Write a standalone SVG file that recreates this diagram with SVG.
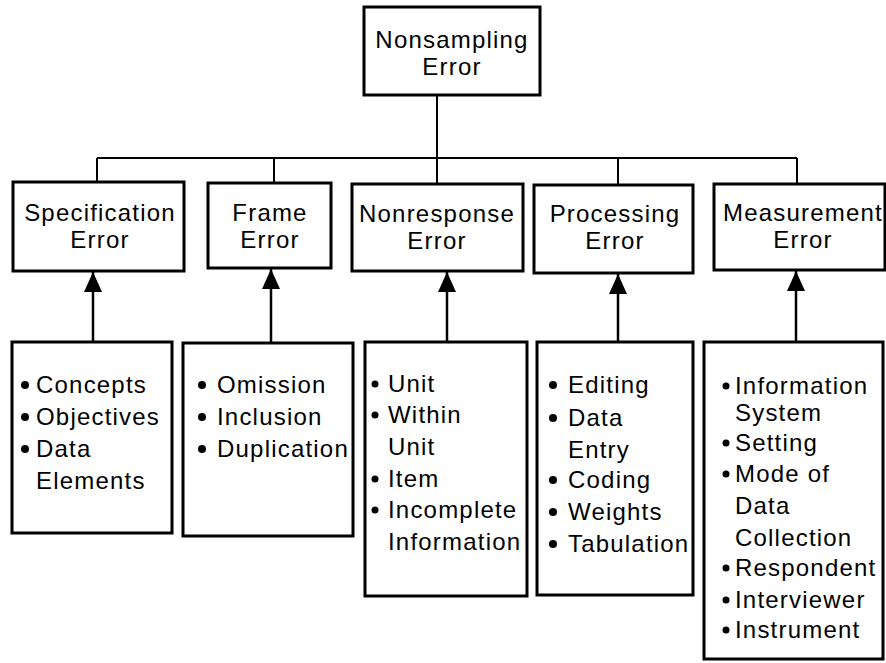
<svg xmlns="http://www.w3.org/2000/svg" width="886" height="663" viewBox="0 0 886 663">
<style>
  .box { fill: #fff; stroke: #000; stroke-width: 3; }
  .t { font-family: "Liberation Sans", Arial, Helvetica, sans-serif; font-size: 24px; letter-spacing: 1.2px; fill: #000; }
  .c { text-anchor: middle; }
  .ln { stroke: #000; stroke-width: 2; fill: none; }
  .ar { stroke: #000; stroke-width: 2.5; fill: none; marker-end: url(#ah); }
  .b { fill: #000; }
</style>
<defs>
  <marker id="ah" markerUnits="userSpaceOnUse" markerWidth="20" markerHeight="18" viewBox="0 0 20 18" refX="20" refY="9" orient="auto">
    <path d="M0,0 L20,9 L0,18 Z" fill="#000"/>
  </marker>
</defs>
<rect width="886" height="663" fill="#fff"/>

<g id="connectors">
  <path class="ln" d="M437,95 V158 M97,158 H797 M97,158 V182 M274,158 V183 M437,158 V184 M618,158 V185 M797,158 V184"/>
  <path class="ar" d="M93,342 V272"/>
  <path class="ar" d="M271,343 V269"/>
  <path class="ar" d="M447,342 V272"/>
  <path class="ar" d="M618,342 V274"/>
  <path class="ar" d="M796,342 V271"/>
</g>

<g id="nonsampling">
  <rect class="box" x="364" y="7" width="176" height="88"/>
  <text class="t c" x="452" y="48">Nonsampling</text>
  <text class="t c" x="452" y="75">Error</text>
</g>

<g id="specification">
  <rect class="box" x="13" y="182" width="171" height="89"/>
  <text class="t c" x="100" y="221">Specification</text>
  <text class="t c" x="100" y="248">Error</text>
</g>
<g id="frame">
  <rect class="box" x="208" y="183" width="123" height="85"/>
  <text class="t c" x="270" y="221">Frame</text>
  <text class="t c" x="270" y="248">Error</text>
</g>
<g id="nonresponse">
  <rect class="box" x="352" y="184" width="171" height="87"/>
  <text class="t c" x="437" y="222">Nonresponse</text>
  <text class="t c" x="437" y="249">Error</text>
</g>
<g id="processing">
  <rect class="box" x="534" y="185" width="159" height="88"/>
  <text class="t c" x="615" y="222">Processing</text>
  <text class="t c" x="615" y="249">Error</text>
</g>
<g id="measurement">
  <rect class="box" x="714" y="184" width="171" height="86"/>
  <text class="t c" x="803" y="221">Measurement</text>
  <text class="t c" x="803" y="248">Error</text>
</g>

<g id="spec-list">
  <rect class="box" x="12" y="342" width="160" height="191"/>
  <circle class="b" cx="25" cy="385" r="4"/>
  <text class="t" x="36" y="393">Concepts</text>
  <circle class="b" cx="25" cy="417" r="4"/>
  <text class="t" x="36" y="425">Objectives</text>
  <circle class="b" cx="25" cy="449" r="4"/>
  <text class="t" x="36" y="457">Data</text>
  <text class="t" x="36" y="489">Elements</text>
</g>

<g id="frame-list">
  <rect class="box" x="183" y="343" width="170" height="193"/>
  <circle class="b" cx="202" cy="385" r="4"/>
  <text class="t" x="217" y="393">Omission</text>
  <circle class="b" cx="202" cy="417" r="4"/>
  <text class="t" x="217" y="425">Inclusion</text>
  <circle class="b" cx="202" cy="449" r="4"/>
  <text class="t" x="217" y="457">Duplication</text>
</g>

<g id="nonresponse-list">
  <rect class="box" x="365" y="342" width="162" height="254"/>
  <circle class="b" cx="375" cy="384" r="3.5"/>
  <text class="t" x="388" y="392">Unit</text>
  <circle class="b" cx="375" cy="415" r="3.5"/>
  <text class="t" x="388" y="423">Within</text>
  <text class="t" x="388" y="455">Unit</text>
  <circle class="b" cx="375" cy="479" r="3.5"/>
  <text class="t" x="388" y="487">Item</text>
  <circle class="b" cx="375" cy="510" r="3.5"/>
  <text class="t" x="388" y="518">Incomplete</text>
  <text class="t" x="388" y="550">Information</text>
</g>

<g id="processing-list">
  <rect class="box" x="537" y="342" width="156" height="253"/>
  <circle class="b" cx="553" cy="385" r="4"/>
  <text class="t" x="568" y="393">Editing</text>
  <circle class="b" cx="553" cy="418" r="4"/>
  <text class="t" x="568" y="426">Data</text>
  <text class="t" x="568" y="458">Entry</text>
  <circle class="b" cx="553" cy="480" r="4"/>
  <text class="t" x="568" y="488">Coding</text>
  <circle class="b" cx="553" cy="512" r="4"/>
  <text class="t" x="568" y="520">Weights</text>
  <circle class="b" cx="553" cy="544" r="4"/>
  <text class="t" x="568" y="552">Tabulation</text>
</g>

<g id="measurement-list">
  <rect class="box" x="704" y="342" width="179" height="317"/>
  <circle class="b" cx="726" cy="386" r="3.5"/>
  <text class="t" x="735" y="394">Information</text>
  <text class="t" x="735" y="421">System</text>
  <circle class="b" cx="726" cy="443" r="3.5"/>
  <text class="t" x="735" y="451">Setting</text>
  <circle class="b" cx="726" cy="474" r="3.5"/>
  <text class="t" x="735" y="482">Mode of</text>
  <text class="t" x="735" y="514">Data</text>
  <text class="t" x="735" y="546">Collection</text>
  <circle class="b" cx="726" cy="568" r="3.5"/>
  <text class="t" x="735" y="576">Respondent</text>
  <circle class="b" cx="726" cy="600" r="3.5"/>
  <text class="t" x="735" y="608">Interviewer</text>
  <circle class="b" cx="726" cy="630" r="3.5"/>
  <text class="t" x="735" y="638">Instrument</text>
</g>
</svg>
